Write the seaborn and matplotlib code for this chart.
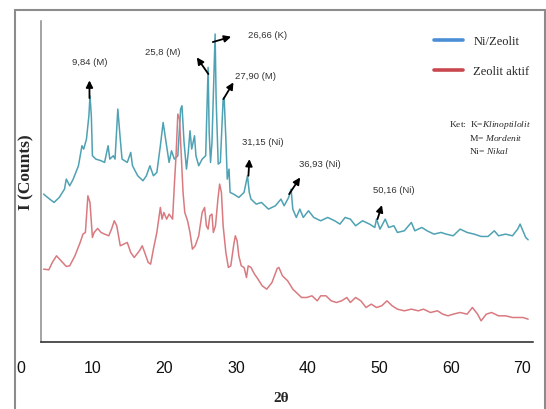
import matplotlib
matplotlib.use("Agg")
import matplotlib.pyplot as plt
import seaborn as sns
import pandas as pd
from matplotlib.lines import Line2D
from matplotlib.patches import Rectangle

# ---------------- data ----------------
ni_theta = [3.14, 3.87, 4.60, 5.33, 6.06, 6.31, 6.79, 7.28, 8.01, 8.50,
            8.74, 9.13, 9.47, 9.62, 9.81, 9.96, 10.44, 11.17, 11.66, 12.15,
            12.39, 12.88, 13.12, 13.51, 13.85, 14.10, 14.83, 15.31, 15.56, 16.29,
            17.02, 17.50, 17.99, 18.48, 18.96, 19.45, 19.84, 20.18, 20.67, 21.01,
            21.40, 21.89, 22.28, 22.47, 22.76, 23.10, 23.35, 23.59, 23.83, 24.22,
            24.42, 24.81, 25.29, 25.78, 26.12, 26.27, 26.46, 26.66, 27.10, 27.24,
            27.53, 27.83, 28.22, 28.36, 28.60, 28.80, 29.04, 29.19, 29.68, 30.41,
            31.14, 31.62, 31.87, 32.11, 32.84, 33.57, 34.55, 35.52, 36.30, 36.74,
            37.37, 37.71, 37.95, 38.44, 38.93, 39.41, 40.14, 40.88, 41.85, 42.82,
            43.80, 44.53, 45.26, 45.99, 46.72, 47.69, 48.67, 49.40, 49.64, 50.13,
            50.86, 51.34, 52.07, 52.56, 53.53, 54.51, 54.99, 55.97, 56.70, 57.67,
            58.65, 59.38, 60.35, 61.32, 62.30, 63.27, 64.25, 65.22, 66.10, 66.68,
            67.66, 68.63, 69.36, 69.70, 70.09, 70.48, 70.82]
ni_counts = [442, 429, 417, 432, 457, 487, 467, 487, 527, 587,
             577, 607, 677, 737, 677, 557, 547, 542, 537, 587,
             547, 557, 547, 697, 607, 547, 537, 567, 527, 497,
             482, 497, 527, 497, 507, 587, 657, 607, 537, 572,
             547, 557, 697, 707, 597, 517, 567, 632, 577, 617,
             557, 527, 547, 557, 822, 627, 537, 597, 922, 727,
             532, 537, 727, 732, 607, 487, 517, 447, 442, 432,
             447, 497, 447, 427, 412, 417, 397, 407, 427, 407,
             432, 457, 397, 372, 397, 372, 392, 372, 362, 372,
             362, 352, 372, 367, 347, 362, 352, 342, 367, 337,
             367, 342, 347, 327, 332, 357, 332, 342, 332, 322,
             327, 322, 317, 337, 327, 322, 315, 315, 332, 317,
             322, 317, 337, 352, 332, 312, 305]

za_theta = [3.14, 3.87, 4.36, 4.94, 5.58, 6.31, 6.79, 7.52, 8.25, 8.64,
            8.98, 9.33, 9.62, 9.96, 10.20, 10.69, 11.17, 11.66, 12.24, 12.63,
            13.02, 13.36, 13.85, 14.34, 14.83, 15.31, 15.80, 16.53, 16.92, 17.26,
            17.75, 18.09, 18.48, 18.96, 19.45, 19.69, 19.94, 20.33, 20.67, 21.16,
            21.40, 21.64, 21.89, 22.13, 22.37, 22.62, 22.86, 23.25, 23.59, 23.93,
            24.32, 24.81, 25.29, 25.63, 25.88, 26.12, 26.37, 26.66, 26.85, 27.15,
            27.49, 27.73, 27.98, 28.22, 28.60, 28.95, 29.29, 29.68, 29.92, 30.17,
            30.41, 30.75, 31.14, 31.48, 31.72, 32.11, 32.60, 33.09, 33.67, 34.31,
            35.04, 35.77, 36.01, 36.50, 37.23, 37.95, 38.68, 39.17, 39.90, 40.63,
            41.36, 41.85, 42.58, 43.31, 44.04, 44.77, 45.50, 45.99, 46.72, 47.45,
            48.18, 48.91, 49.64, 50.37, 51.10, 51.83, 52.56, 53.53, 54.51, 55.48,
            56.21, 57.18, 58.16, 58.89, 59.62, 60.35, 61.32, 62.30, 63.03, 63.76,
            64.25, 64.98, 65.71, 66.68, 67.66, 68.63, 69.60, 70.09, 70.82]
za_counts = [217, 215, 237, 257, 242, 225, 227, 257, 297, 322,
             327, 437, 417, 312, 327, 339, 327, 322, 317, 337,
             362, 347, 287, 292, 297, 267, 252, 272, 287, 267,
             237, 232, 277, 327, 402, 367, 387, 367, 382, 367,
             467, 557, 682, 667, 557, 447, 387, 362, 327, 277,
             287, 317, 387, 402, 347, 337, 377, 382, 327, 347,
             427, 472, 447, 347, 267, 222, 227, 287, 317, 302,
             257, 227, 222, 192, 227, 222, 202, 187, 167, 157,
             177, 219, 222, 197, 182, 157, 142, 132, 132, 137,
             122, 137, 137, 122, 117, 122, 132, 117, 132, 122,
             102, 112, 102, 107, 122, 107, 97, 92, 97, 92,
             97, 87, 92, 82, 77, 82, 87, 82, 102, 82,
             62, 82, 87, 77, 77, 72, 72, 72, 67]

series_names = ["Ni/Zeolit", "Zeolit aktif"]
x_ticks = [0, 10, 20, 30, 40, 50, 60, 70]

peak_labels = ["9,84 (M)", "25,8 (M)", "26,66 (K)", "27,90 (M)",
               "31,15 (Ni)", "36,93 (Ni)", "50,16 (Ni)"]
# label position (2theta, counts), arrow tail, arrow head
label_pos = [(9.63, 840), (19.83, 870), (34.37, 922), (32.76, 797),
             (33.81, 600), (41.77, 534), (52.12, 455)]
arrow_tail = [(9.55, 730), (26.16, 802), (26.78, 898), (28.26, 727),
              (31.75, 497), (37.44, 442), (49.78, 367)]
arrow_head = [(9.55, 783), (24.54, 852), (29.34, 914), (29.66, 777),
              (31.89, 547), (38.98, 492), (50.40, 409)]

# ---------------- style ----------------
sns.set_style("white")
plt.rcParams["font.family"] = ["Liberation Sans", "DejaVu Sans"]
plt.rcParams["mathtext.fontset"] = "custom"
plt.rcParams["mathtext.rm"] = "Liberation Serif"
plt.rcParams["mathtext.it"] = "Liberation Serif:italic"

teal = "#4ea2b3"
pink = "#d97a80"

fig = plt.figure(figsize=(5.46, 4.10), dpi=100)
W, H = 546.0, 410.0
ax = fig.add_axes([21.1 / W, (H - 342.5) / H, 511.9 / W, (342.5 - 21.7) / H])

df_ni = pd.DataFrame({"theta": ni_theta, "counts": ni_counts})
df_za = pd.DataFrame({"theta": za_theta, "counts": za_counts})
sns.lineplot(data=df_ni, x="theta", y="counts", ax=ax, color=teal, lw=1.1,
             sort=False, estimator=None)
sns.lineplot(data=df_za, x="theta", y="counts", ax=ax, color=pink, lw=1.1,
             sort=False, estimator=None)

ax.set_xlim(0, 71.5)
ax.set_ylim(0, 962)
ax.set_xticks(x_ticks)
ax.set_xticklabels([str(t) for t in x_ticks])
ax.set_yticks([])
ax.tick_params(axis="x", length=0, pad=13, labelsize=11.5, colors="#111111")
ax.set_xlabel("")
ax.set_ylabel("")

for s in ["top", "right"]:
    ax.spines[s].set_visible(False)
ax.spines["left"].set_position(("data", 2.75))
ax.spines["left"].set_color("#8a8a8a")
ax.spines["left"].set_linewidth(1.1)
ax.spines["bottom"].set_bounds(2.75, 71.5)
ax.spines["bottom"].set_color("#222222")
ax.spines["bottom"].set_linewidth(1.1)

# axis titles
fig.text(281 / W, 1 - 398.5 / H, "2θ", family="Liberation Serif",
         fontweight="bold", fontsize=11, ha="center", va="center")
fig.text(26 / W, 1 - 171.7 / H, "I (Counts)", family="Liberation Serif",
         fontweight="bold", fontsize=12.5, rotation=90, ha="center", va="center")

# legend
handles = [Line2D([], [], color="#4a8ed6", lw=2.6),
           Line2D([], [], color="#c9484f", lw=2.6)]
ax.legend(handles, series_names, loc="upper left",
          bbox_to_anchor=(434 / W, 1 - 36.0 / H), bbox_transform=fig.transFigure,
          frameon=False, borderpad=0, borderaxespad=0, handlelength=2.3,
          handletextpad=0.85, labelspacing=1.45,
          prop={"family": "Liberation Serif", "size": 9})

# "Ket" note
fig.text(449 / W, 1 - 125 / H, r"Ket:  K=$\mathit{Klinoptilolit}$",
         family="Liberation Serif", fontsize=6.8, ha="left", va="center")
fig.text(469 / W, 1 - 138 / H, r"M= $\mathit{Mordenit}$",
         family="Liberation Serif", fontsize=6.8, ha="left", va="center")
fig.text(469 / W, 1 - 151 / H, r"Ni= $\mathit{Nikal}$",
         family="Liberation Serif", fontsize=6.8, ha="left", va="center")

# peak annotations
for lab, lp, tail, head in zip(peak_labels, label_pos, arrow_tail, arrow_head):
    ax.annotate("", xy=head, xytext=tail,
                arrowprops=dict(arrowstyle="-|>", color="black", lw=1.3,
                                mutation_scale=10, shrinkA=0, shrinkB=0))
    ax.text(lp[0], lp[1], lab, fontsize=6.8, color="#333333",
            ha="center", va="center")

# outer frame
fig.add_artist(Rectangle((15.3 / W, -0.05), (545 - 15.3) / W, (H - 11) / H + 0.05,
                         transform=fig.transFigure, fill=False,
                         ec="#8c8c8c", lw=1.5))

fig.savefig("out.png", dpi=100)
